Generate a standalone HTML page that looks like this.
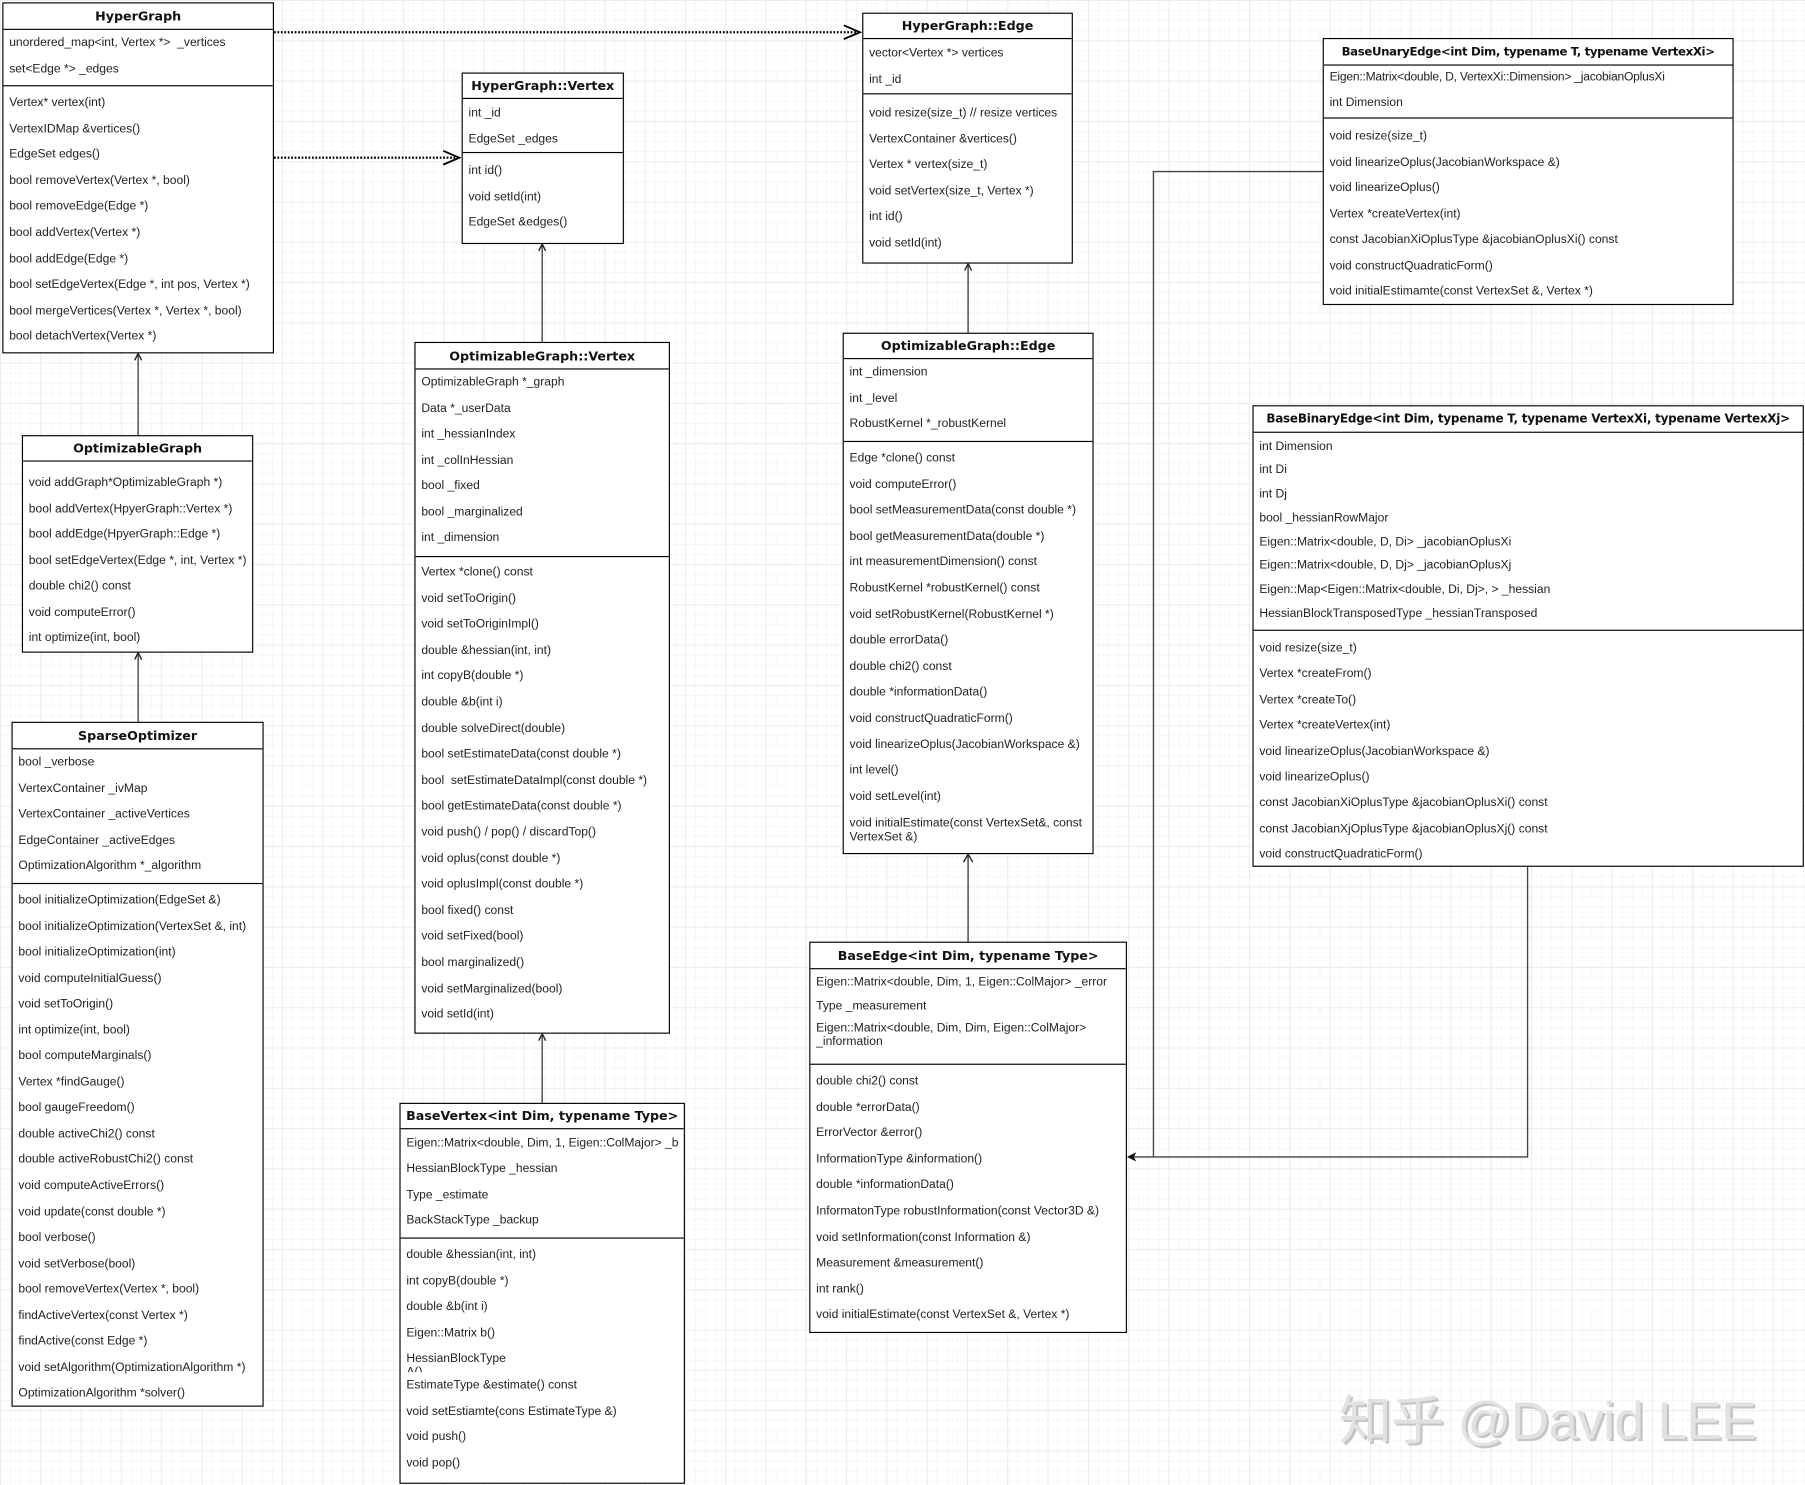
<!DOCTYPE html>
<html><head><meta charset="utf-8">
<style>
html,body{margin:0;padding:0;}
body{width:1805px;height:1485px;overflow:hidden;background:#fff;}
#wrap{position:absolute;left:0;top:0;width:1568px;height:1290px;transform:scale(1.15115);transform-origin:0 0;
background-color:#fff;
background-image:linear-gradient(#ececec 1px,transparent 1px),linear-gradient(90deg,#ececec 1px,transparent 1px),linear-gradient(#f6f6f6 1px,transparent 1px),linear-gradient(90deg,#f6f6f6 1px,transparent 1px);
background-size:35px 35px,35px 35px,8.75px 8.75px,8.75px 8.75px;}
.b{position:absolute;border:1px solid #000;background:#fff;box-sizing:border-box;font-family:"Liberation Sans",Arial,sans-serif;font-size:10.5px;color:#222;overflow:hidden;display:flex;flex-direction:column;}
.t{font-family:"DejaVu Sans",sans-serif;font-weight:bold;font-size:11px;text-align:center;border-bottom:1px solid #000;box-sizing:border-box;flex:none;display:flex;align-items:center;justify-content:center;color:#111;white-space:nowrap;}
.s{box-sizing:border-box;flex:none;}
.m{border-top:1px solid #000;flex:1;box-sizing:border-box;}
.m0{flex:1;box-sizing:border-box;}
.r{padding-left:5px;white-space:nowrap;overflow:hidden;}
.two{line-height:12px;white-space:normal;padding-top:4px;box-sizing:border-box;}
svg{position:absolute;left:0;top:0;}
.wm{position:absolute;left:1163px;top:1198px;font-family:"Liberation Sans","Noto Sans CJK SC",sans-serif;font-size:46px;color:#e2e2e2;text-shadow:2px 2px 0 #c4c4c4;white-space:nowrap;letter-spacing:-0.5px;}
</style></head><body><div id="wrap">

<svg width="1568" height="1290">
<g stroke="#000" stroke-width="2" stroke-dasharray="1.5,1.5" fill="none">
<line x1="238" y1="28" x2="745" y2="28"/>
<line x1="238" y1="137" x2="397" y2="137"/>
</g>
<g stroke="#000" stroke-width="1.6" fill="none">
<polyline points="733,22 747,28 733,34"/>
<polyline points="385,131 399,137 385,143"/>
</g>
<g stroke="#444" stroke-width="1.2" fill="none">
<line x1="120" y1="378" x2="120" y2="307"/>
<line x1="120" y1="627" x2="120" y2="567"/>
<line x1="471" y1="297" x2="471" y2="212"/>
<line x1="471" y1="958" x2="471" y2="898"/>
<line x1="841" y1="289" x2="841" y2="229"/>
<line x1="841" y1="818" x2="841" y2="742"/>
<polyline points="1149,149 1002,149 1002,1005 980,1005"/>
<polyline points="1327,752 1327,1005 1002,1005"/>
</g>
<g stroke="#222" stroke-width="1.2" fill="none">
<polyline points="117,313 120,307 123,313"/>
<polyline points="117,573 120,567 123,573"/>
<polyline points="468,218 471,212 474,218"/>
<polyline points="468,904 471,898 474,904"/>
<polyline points="838,235 841,229 844,235"/>
<polyline points="837,749 841,742 845,749"/>
</g>
<polygon points="979,1005 987,1001 985,1005 987,1009" fill="#111"/>
</svg>

<!-- HyperGraph -->
<div class="b" style="left:2px;top:2px;width:236px;height:305px;">
<div class="t" style="height:23px">HyperGraph</div>
<div class="s" style="height:48px;line-height:22.5px;padding-top:0">
<div class="r">unordered_map&lt;int, Vertex *&gt;&nbsp; _vertices</div><div class="r">set&lt;Edge *&gt; _edges</div></div>
<div class="m" style="line-height:22.6px;padding-top:3px">
<div class="r">Vertex* vertex(int)</div><div class="r">VertexIDMap &amp;vertices()</div><div class="r">EdgeSet edges()</div><div class="r">bool removeVertex(Vertex *, bool)</div><div class="r">bool removeEdge(Edge *)</div><div class="r">bool addVertex(Vertex *)</div><div class="r">bool addEdge(Edge *)</div><div class="r">bool setEdgeVertex(Edge *, int pos, Vertex *)</div><div class="r">bool mergeVertices(Vertex *, Vertex *, bool)</div><div class="r">bool detachVertex(Vertex *)</div></div>
</div>

<!-- HyperGraph::Vertex -->
<div class="b" style="left:401px;top:63px;width:141px;height:149px;">
<div class="t" style="height:22px">HyperGraph::Vertex</div>
<div class="s" style="height:46px;line-height:22.5px;padding-top:1px"><div class="r">int _id</div><div class="r">EdgeSet _edges</div></div>
<div class="m" style="line-height:22.6px;padding-top:4px"><div class="r">int id()</div><div class="r">void setId(int)</div><div class="r">EdgeSet &amp;edges()</div></div>
</div>

<!-- HyperGraph::Edge -->
<div class="b" style="left:749px;top:11px;width:183px;height:218px;">
<div class="t" style="height:22px">HyperGraph::Edge</div>
<div class="s" style="height:47px;line-height:22.5px;padding-top:1px"><div class="r">vector&lt;Vertex *&gt; vertices</div><div class="r">int _id</div></div>
<div class="m" style="line-height:22.6px;padding-top:5px"><div class="r">void resize(size_t) // resize vertices</div><div class="r">VertexContainer &amp;vertices()</div><div class="r">Vertex * vertex(size_t)</div><div class="r">void setVertex(size_t, Vertex *)</div><div class="r">int id()</div><div class="r">void setId(int)</div></div>
</div>

<!-- BaseUnaryEdge -->
<div class="b" style="left:1149px;top:33px;width:357px;height:232px;">
<div class="t" style="height:23px;font-size:10.2px;letter-spacing:-0.3px">BaseUnaryEdge&lt;int Dim, typename T, typename VertexXi&gt;</div>
<div class="s" style="height:45px;line-height:21.5px;padding-top:0"><div class="r" style="letter-spacing:-0.2px">Eigen::Matrix&lt;double, D, VertexXi::Dimension&gt; _jacobianOplusXi</div><div class="r">int Dimension</div></div>
<div class="m" style="line-height:22.5px;padding-top:4px"><div class="r">void resize(size_t)</div><div class="r">void linearizeOplus(JacobianWorkspace &amp;)</div><div class="r">void linearizeOplus()</div><div class="r">Vertex *createVertex(int)</div><div class="r">const JacobianXiOplusType &amp;jacobianOplusXi() const</div><div class="r">void constructQuadraticForm()</div><div class="r">void initialEstimamte(const VertexSet &amp;, Vertex *)</div></div>
</div>

<!-- BaseBinaryEdge -->
<div class="b" style="left:1088px;top:352px;width:479px;height:401px;">
<div class="t" style="height:23px;font-size:10.4px;letter-spacing:-0.2px">BaseBinaryEdge&lt;int Dim, typename T, typename VertexXi, typename VertexXj&gt;</div>
<div class="s" style="height:171px;line-height:20.8px;padding-top:1.5px"><div class="r">int Dimension</div><div class="r">int Di</div><div class="r">int Dj</div><div class="r">bool _hessianRowMajor</div><div class="r">Eigen::Matrix&lt;double, D, Di&gt; _jacobianOplusXi</div><div class="r">Eigen::Matrix&lt;double, D, Dj&gt; _jacobianOplusXj</div><div class="r">Eigen::Map&lt;Eigen::Matrix&lt;double, Di, Dj&gt;, &gt; _hessian</div><div class="r">HessianBlockTransposedType _hessianTransposed</div></div>
<div class="m" style="line-height:22.4px;padding-top:4px"><div class="r">void resize(size_t)</div><div class="r">Vertex *createFrom()</div><div class="r">Vertex *createTo()</div><div class="r">Vertex *createVertex(int)</div><div class="r">void linearizeOplus(JacobianWorkspace &amp;)</div><div class="r">void linearizeOplus()</div><div class="r">const JacobianXiOplusType &amp;jacobianOplusXi() const</div><div class="r">const JacobianXjOplusType &amp;jacobianOplusXj() const</div><div class="r">void constructQuadraticForm()</div></div>
</div>

<!-- OptimizableGraph -->
<div class="b" style="left:19px;top:378px;width:201px;height:189px;">
<div class="t" style="height:22px">OptimizableGraph</div>
<div class="m0" style="line-height:22.5px;padding-top:7px"><div class="r">void addGraph*OptimizableGraph *)</div><div class="r">bool addVertex(HpyerGraph::Vertex *)</div><div class="r">bool addEdge(HpyerGraph::Edge *)</div><div class="r">bool setEdgeVertex(Edge *, int, Vertex *)</div><div class="r">double chi2() const</div><div class="r">void computeError()</div><div class="r">int optimize(int, bool)</div></div>
</div>

<!-- SparseOptimizer -->
<div class="b" style="left:10px;top:627px;width:219px;height:595px;">
<div class="t" style="height:23px">SparseOptimizer</div>
<div class="s" style="height:116px;line-height:22.5px"><div class="r">bool _verbose</div><div class="r">VertexContainer _ivMap</div><div class="r">VertexContainer _activeVertices</div><div class="r">EdgeContainer _activeEdges</div><div class="r">OptimizationAlgorithm *_algorithm</div></div>
<div class="m" style="line-height:22.55px;padding-top:3px"><div class="r">bool initializeOptimization(EdgeSet &amp;)</div><div class="r">bool initializeOptimization(VertexSet &amp;, int)</div><div class="r">bool initializeOptimization(int)</div><div class="r">void computeInitialGuess()</div><div class="r">void setToOrigin()</div><div class="r">int optimize(int, bool)</div><div class="r">bool computeMarginals()</div><div class="r">Vertex *findGauge()</div><div class="r">bool gaugeFreedom()</div><div class="r">double activeChi2() const</div><div class="r">double activeRobustChi2() const</div><div class="r">void computeActiveErrors()</div><div class="r">void update(const double *)</div><div class="r">bool verbose()</div><div class="r">void setVerbose(bool)</div><div class="r">bool removeVertex(Vertex *, bool)</div><div class="r">findActiveVertex(const Vertex *)</div><div class="r">findActive(const Edge *)</div><div class="r">void setAlgorithm(OptimizationAlgorithm *)</div><div class="r">OptimizationAlgorithm *solver()</div></div>
</div>

<!-- OptimizableGraph::Vertex -->
<div class="b" style="left:360px;top:297px;width:222px;height:601px;">
<div class="t" style="height:23px">OptimizableGraph::Vertex</div>
<div class="s" style="height:162px;line-height:22.5px"><div class="r">OptimizableGraph *_graph</div><div class="r">Data *_userData</div><div class="r">int _hessianIndex</div><div class="r">int _colInHessian</div><div class="r">bool _fixed</div><div class="r">bool _marginalized</div><div class="r">int _dimension</div></div>
<div class="m" style="line-height:22.6px;padding-top:2px"><div class="r">Vertex *clone() const</div><div class="r">void setToOrigin()</div><div class="r">void setToOriginImpl()</div><div class="r">double &amp;hessian(int, int)</div><div class="r">int copyB(double *)</div><div class="r">double &amp;b(int i)</div><div class="r">double solveDirect(double)</div><div class="r">bool setEstimateData(const double *)</div><div class="r">bool&nbsp; setEstimateDataImpl(const double *)</div><div class="r">bool getEstimateData(const double *)</div><div class="r">void push() / pop() / discardTop()</div><div class="r">void oplus(const double *)</div><div class="r">void oplusImpl(const double *)</div><div class="r">bool fixed() const</div><div class="r">void setFixed(bool)</div><div class="r">bool marginalized()</div><div class="r">void setMarginalized(bool)</div><div class="r">void setId(int)</div></div>
</div>

<!-- OptimizableGraph::Edge -->
<div class="b" style="left:732px;top:289px;width:218px;height:453px;">
<div class="t" style="height:22px">OptimizableGraph::Edge</div>
<div class="s" style="height:71px;line-height:22.6px"><div class="r">int _dimension</div><div class="r">int _level</div><div class="r">RobustKernel *_robustKernel</div></div>
<div class="m" style="line-height:22.6px;padding-top:3px"><div class="r">Edge *clone() const</div><div class="r">void computeError()</div><div class="r">bool setMeasurementData(const double *)</div><div class="r">bool getMeasurementData(double *)</div><div class="r">int measurementDimension() const</div><div class="r">RobustKernel *robustKernel() const</div><div class="r">void setRobustKernel(RobustKernel *)</div><div class="r">double errorData()</div><div class="r">double chi2() const</div><div class="r">double *informationData()</div><div class="r">void constructQuadraticForm()</div><div class="r">void linearizeOplus(JacobianWorkspace &amp;)</div><div class="r">int level()</div><div class="r">void setLevel(int)</div><div class="r two" style="padding-top:6px">void initialEstimate(const VertexSet&amp;, const VertexSet &amp;)</div></div>
</div>

<!-- BaseVertex -->
<div class="b" style="left:347px;top:958px;width:248px;height:331px;">
<div class="t" style="height:22px">BaseVertex&lt;int Dim, typename Type&gt;</div>
<div class="s" style="height:94px;line-height:22.5px;padding-top:0.5px"><div class="r">Eigen::Matrix&lt;double, Dim, 1, Eigen::ColMajor&gt; _b</div><div class="r">HessianBlockType _hessian</div><div class="r">Type _estimate</div><div class="r">BackStackType _backup</div></div>
<div class="m" style="line-height:22.6px;padding-top:3px"><div class="r">double &amp;hessian(int, int)</div><div class="r">int copyB(double *)</div><div class="r">double &amp;b(int i)</div><div class="r">Eigen::Matrix b()</div><div class="r two" style="height:22.6px;overflow:hidden;padding-top:5px;line-height:12px">HessianBlockType<br>A()</div><div class="r">EstimateType &amp;estimate() const</div><div class="r">void setEstiamte(cons EstimateType &amp;)</div><div class="r">void push()</div><div class="r">void pop()</div></div>
</div>

<!-- BaseEdge -->
<div class="b" style="left:703px;top:818px;width:276px;height:340px;">
<div class="t" style="height:23px">BaseEdge&lt;int Dim, typename Type&gt;</div>
<div class="s" style="height:82px;line-height:21px;padding-top:1px"><div class="r">Eigen::Matrix&lt;double, Dim, 1, Eigen::ColMajor&gt; _error</div><div class="r">Type _measurement</div><div class="r two" style="padding-top:2px">Eigen::Matrix&lt;double, Dim, Dim, Eigen::ColMajor&gt;<br>_information</div></div>
<div class="m" style="line-height:22.6px;padding-top:3px"><div class="r">double chi2() const</div><div class="r">double *errorData()</div><div class="r">ErrorVector &amp;error()</div><div class="r">InformationType &amp;information()</div><div class="r">double *informationData()</div><div class="r">InformatonType robustInformation(const Vector3D &amp;)</div><div class="r">void setInformation(const Information &amp;)</div><div class="r">Measurement &amp;measurement()</div><div class="r">int rank()</div><div class="r">void initialEstimate(const VertexSet &amp;, Vertex *)</div></div>
</div>

<div class="wm">知乎 @David LEE</div>
</div></body></html>
